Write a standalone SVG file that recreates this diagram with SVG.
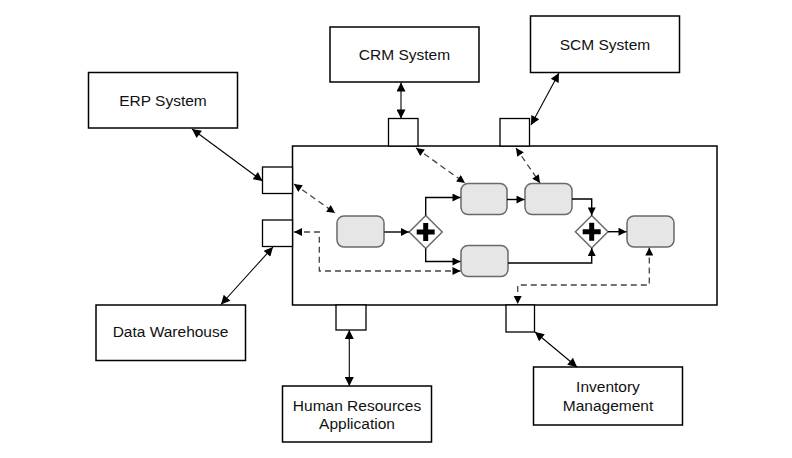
<svg xmlns="http://www.w3.org/2000/svg" width="792" height="458" viewBox="0 0 792 458">
<style>
.box{fill:#fff;stroke:#000;stroke-width:1.5}
.port{fill:#fff;stroke:#000;stroke-width:1.3}
.task{fill:#e6e6e6;stroke:#6a6a6a;stroke-width:1.5}
.gw{fill:#fff;stroke:#6a6a6a;stroke-width:1.5}
.plus{fill:#000}
.seq{fill:none;stroke:#000;stroke-width:1.4}
.msg{fill:none;stroke:#444;stroke-width:1.3;stroke-dasharray:6,4}
.ext{fill:none;stroke:#000;stroke-width:1.1}
text{font-family:"Liberation Sans",Arial,sans-serif;font-size:15.5px;fill:#111;text-anchor:middle}
</style>
<defs>
<marker id="ah" viewBox="0 0 10 10" refX="10" refY="5" markerWidth="9" markerHeight="8" markerUnits="userSpaceOnUse" orient="auto-start-reverse">
<path d="M0,0 L10,5 L0,10 z" fill="#000"/>
</marker>
<marker id="ahb" viewBox="0 0 10 10" refX="10" refY="5" markerWidth="11" markerHeight="9" markerUnits="userSpaceOnUse" orient="auto-start-reverse">
<path d="M0,0 L10,5 L0,10 z" fill="#000"/>
</marker>
</defs>

<g id="pool">
<rect class="box" x="292.5" y="146" width="424.5" height="159"/>
</g>
<g id="port-erp"><rect class="port" x="262.5" y="167" width="30" height="26.5"/></g>
<g id="port-dw"><rect class="port" x="262.5" y="220" width="30" height="26.5"/></g>
<g id="port-crm"><rect class="port" x="388.5" y="118.5" width="29.5" height="27.5"/></g>
<g id="port-scm"><rect class="port" x="500" y="118.5" width="29.5" height="27.5"/></g>
<g id="port-hr"><rect class="port" x="336" y="305" width="30" height="25"/></g>
<g id="port-inv"><rect class="port" x="506" y="305" width="28.5" height="27"/></g>

<g id="erp"><rect class="box" x="88.5" y="72.5" width="149" height="55.5"/><text x="163" y="105.5">ERP System</text></g>
<g id="crm"><rect class="box" x="330" y="27" width="149" height="55"/><text x="404.5" y="59.5">CRM System</text></g>
<g id="scm"><rect class="box" x="530.5" y="16" width="149" height="56.5"/><text x="605" y="50">SCM System</text></g>
<g id="dw"><rect class="box" x="96" y="305" width="149.5" height="55.5"/><text x="170.5" y="337">Data Warehouse</text></g>
<g id="hr"><rect class="box" x="282.5" y="386" width="149" height="56"/><text x="357" y="410.5">Human Resources</text><text x="357" y="428.5">Application</text></g>
<g id="inv"><rect class="box" x="533.5" y="367" width="149" height="58"/><text x="608" y="392">Inventory</text><text x="608" y="410.5">Management</text></g>

<g id="task1"><rect class="task" x="337" y="216" width="47" height="31" rx="7"/></g>
<g id="task2"><rect class="task" x="461" y="183.5" width="46" height="31" rx="7"/></g>
<g id="task3"><rect class="task" x="525" y="183.5" width="47" height="31" rx="7"/></g>
<g id="task4"><rect class="task" x="461" y="245.5" width="47" height="31" rx="7"/></g>
<g id="task5"><rect class="task" x="627" y="216" width="47" height="31" rx="7"/></g>
<g id="gw1"><path class="gw" d="M425.7,215.5 L442.2,232 L425.7,248.5 L409.2,232 z"/><path class="plus" d="M423.2,223 h5 v6.5 h6.5 v5 h-6.5 v6.5 h-5 v-6.5 h-6.5 v-5 h6.5 z"/></g>
<g id="gw2"><path class="gw" d="M591.7,215.5 L608,231.7 L591.7,248 L575.4,231.7 z"/><path class="plus" d="M589.2,222.7 h5 v6.5 h6.5 v5 h-6.5 v6.5 h-5 v-6.5 h-6.5 v-5 h6.5 z"/></g>

<g id="connectors">
<path class="seq" marker-end="url(#ah)" d="M384.3,232 H409"/>
<path class="seq" marker-end="url(#ah)" d="M425.7,215.5 V197.5 H460.5"/>
<path class="seq" marker-end="url(#ah)" d="M425.7,248.5 V261.5 H460.5"/>
<path class="seq" marker-end="url(#ah)" d="M507,199.5 H524.5"/>
<path class="seq" marker-end="url(#ah)" d="M572,199 H591.7 V215.5"/>
<path class="seq" marker-end="url(#ah)" d="M508,263 H591.7 V248"/>
<path class="seq" marker-end="url(#ah)" d="M608,231.7 H626.5"/>

<path class="msg" marker-start="url(#ah)" marker-end="url(#ah)" d="M416,148 L465,183"/>
<path class="msg" marker-start="url(#ah)" marker-end="url(#ah)" d="M516,148 L540,183"/>
<path class="msg" marker-start="url(#ah)" marker-end="url(#ah)" d="M294,184 L335,213"/>
<path class="msg" marker-start="url(#ah)" marker-end="url(#ah)" d="M294,232 H319.3 V271 H460.5"/>
<path class="msg" marker-start="url(#ah)" marker-end="url(#ah)" d="M649.3,247.5 V285 H517.7 V304"/>

<path class="ext" marker-start="url(#ahb)" marker-end="url(#ahb)" d="M192,129 L262.5,181"/>
<path class="ext" marker-start="url(#ahb)" marker-end="url(#ahb)" d="M401,82.5 V118.5"/>
<path class="ext" marker-start="url(#ahb)" marker-end="url(#ahb)" d="M559,73 L531,125"/>
<path class="ext" marker-start="url(#ahb)" marker-end="url(#ahb)" d="M221,304.5 L273,247"/>
<path class="ext" marker-start="url(#ahb)" marker-end="url(#ahb)" d="M349.3,330 V386"/>
<path class="ext" marker-start="url(#ahb)" marker-end="url(#ahb)" d="M535,332 L577,367"/>
</g>
</svg>
